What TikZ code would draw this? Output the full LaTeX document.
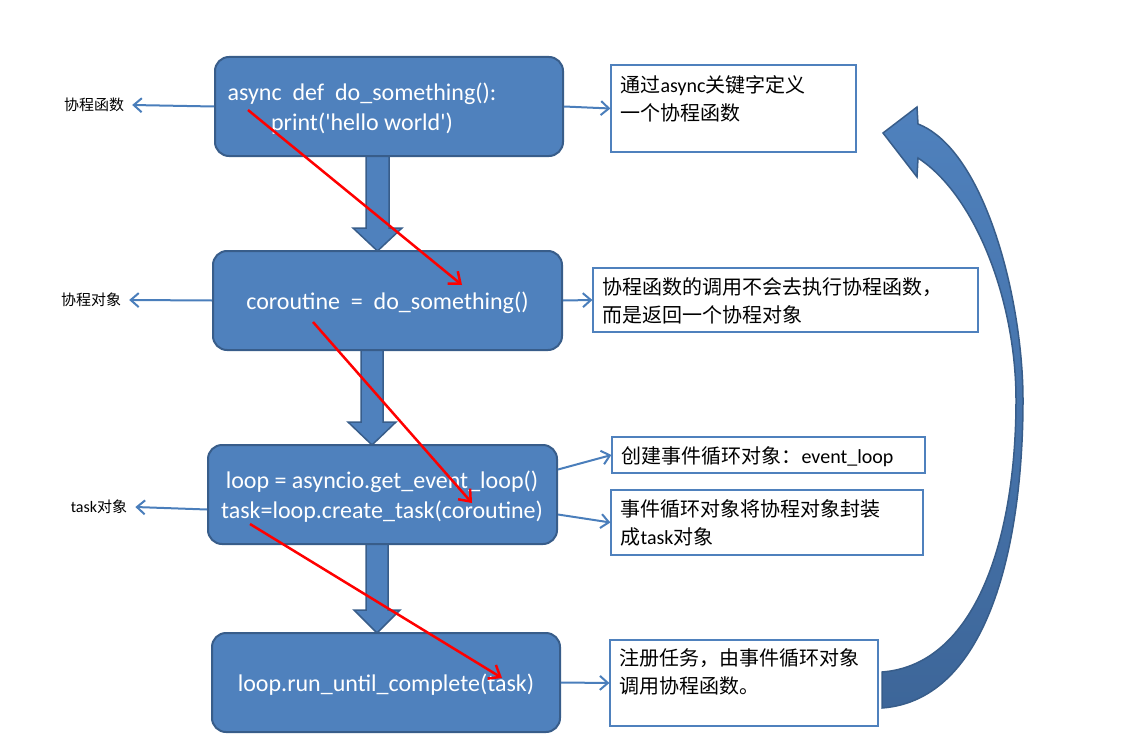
\documentclass[tikz,border=0pt]{standalone}
\usepackage{fontspec}
\setmainfont{Carlito}
\newfontfamily\cjk{Noto Sans CJK SC}
\usetikzlibrary{arrows.meta}
\definecolor{boxfill}{HTML}{4F81BD}
\definecolor{boxline}{HTML}{385D8A}
\definecolor{conncol}{HTML}{4A7EBB}
\definecolor{arcbottom}{HTML}{3D6699}
\newcommand{\zh}[1]{{\cjk #1}}
\tikzset{
  box/.style={draw=boxline, line width=2, fill=boxfill, rounded corners=14, minimum width=348, minimum height=99, inner sep=0},
  boxtext/.style={text=white, font=\fontsize{24}{30}\selectfont, align=center, inner sep=0},
  blockarrow/.style={draw=boxline, line width=1.5, fill=boxfill},
  note/.style={draw=boxfill, line width=1.2, fill=white, inner sep=0},
  notetext/.style={anchor=north west, inner sep=0, align=left, font=\fontsize{20}{28}\selectfont},
  lbl/.style={inner sep=8, font=\fontsize{15}{18}\selectfont},
  conn/.style={draw=conncol, line width=2, -{Straight Barb[length=8,width=14,line width=2]}},
  redarr/.style={draw=red, line width=2.5, -{Straight Barb[length=10,width=16,line width=2.5]}}
}
\begin{document}
\begin{tikzpicture}[x=1pt,y=-1pt]
\useasboundingbox (0,0) rectangle (1124,749);

% block arrows between boxes
\path[blockarrow] (366,150) -- (389,150) -- (389,228) -- (402,228) -- (377.5,251) -- (353,228) -- (366,228) -- cycle;
\path[blockarrow] (361,345) -- (383,345) -- (383,422) -- (396,422) -- (372,445) -- (348,422) -- (361,422) -- cycle;
\path[blockarrow] (366,539) -- (388,539) -- (388,610) -- (400,610) -- (377,633) -- (354,610) -- (366,610) -- cycle;

% main boxes
\node[box] (b1) at (389,106.5) {};
\node[box, minimum width=349] (b2) at (387.5,300.5) {};
\node[box, minimum width=349] (b3) at (382.5,494.5) {};
\node[box] (b4) at (386,682.5) {};

\node[boxtext] (t1) at (362,109) {async~~def~~do\_something():\\print(\textquotesingle hello world\textquotesingle)};
\node[boxtext] (t2) at (387.5,303) {coroutine~~=~~do\_something()};
\node[boxtext] (t3) at (382,496.5) {loop = asyncio.get\_event\_loop()\\task=loop.create\_task(coroutine)};
\node[boxtext] (t4) at (386,685) {loop.run\_until\_complete(task)};

% left labels
\node[lbl] (l1) at (94,105) {\zh{协程函数}};
\node[lbl] (l2) at (91,300) {\zh{协程对象}};
\node[lbl] (l3) at (99,507) {\fontsize{16}{18}\selectfont task\zh{\fontsize{15}{18}\selectfont 对象}};

\draw[conn] (b1.west) -- (l1.east);
\draw[conn] (b2.west) -- (l2.east);
\draw[conn] ([yshift=-15]b3.west) -- (l3.east);

% notes
\node[note, minimum width=245, minimum height=87] (n1) at (733.5,108.5) {};
\node[note, minimum width=385, minimum height=64] (n2) at (785.5,300) {};
\node[note, minimum width=313, minimum height=36] (n3) at (768.5,455) {};
\node[note, minimum width=312, minimum height=65] (n4) at (767,522.5) {};
\node[note, minimum width=268, minimum height=86] (n5) at (744,683) {};

\node[notetext] (nt1) at ([shift={(10,11)}]n1.north west) {\zh{通过}async\zh{关键字定义}\\\zh{一个协程函数}};
\node[notetext] (nt2) at ([shift={(10,10)}]n2.north west) {\zh{协程函数的调用不会去执行协程函数，}\\\zh{而是返回一个协程对象}};
\node[notetext] (nt3) at ([shift={(10,10)}]n3.north west) {\zh{创建事件循环对象：}event\_loop};
\node[notetext] (nt4) at ([shift={(10,10)}]n4.north west) {\zh{事件循环对象将协程对象封装}\\\zh{成}task\zh{对象}};
\node[notetext] (nt5) at ([shift={(10,9)}]n5.north west) {\zh{注册任务，由事件循环对象}\\\zh{调用协程函数。}};

\draw[conn] (b1.east) -- (n1.west);
\draw[conn] (b2.east) -- (n2.west);
\draw[conn] ([yshift=25]b3.east) -- (n3.west);
\draw[conn] ([yshift=-20]b3.east) -- (n4.west);
\draw[conn] (b4.east) -- (n5.west);

% red arrows
\coordinate (r1s) at (248,110);
\coordinate (r1e) at (462,285);
\coordinate (r2s) at (313,322);
\coordinate (r2e) at (472,503);
\coordinate (r3s) at (250,524);
\coordinate (r3e) at (502,678);
\draw[redarr] (r1s) -- (r1e);
\draw[redarr] (r2s) -- (r2e);
\draw[redarr] (r3s) -- (r3e);

% curved return arrow
\path[draw=boxline, line width=1.5, top color=boxfill, bottom color=arcbottom]
  (918,124) .. controls (985,150) and (1023,300) .. (1023,400)
  .. controls (1023,540) and (990,700) .. (882,708)
  -- (882,672)
  .. controls (975,665) and (1016,540) .. (1016,400)
  .. controls (1016,300) and (975,195) .. (918,158)
  -- (917,177) -- (883,133) -- (917,107) -- cycle;
\end{tikzpicture}
\end{document}
